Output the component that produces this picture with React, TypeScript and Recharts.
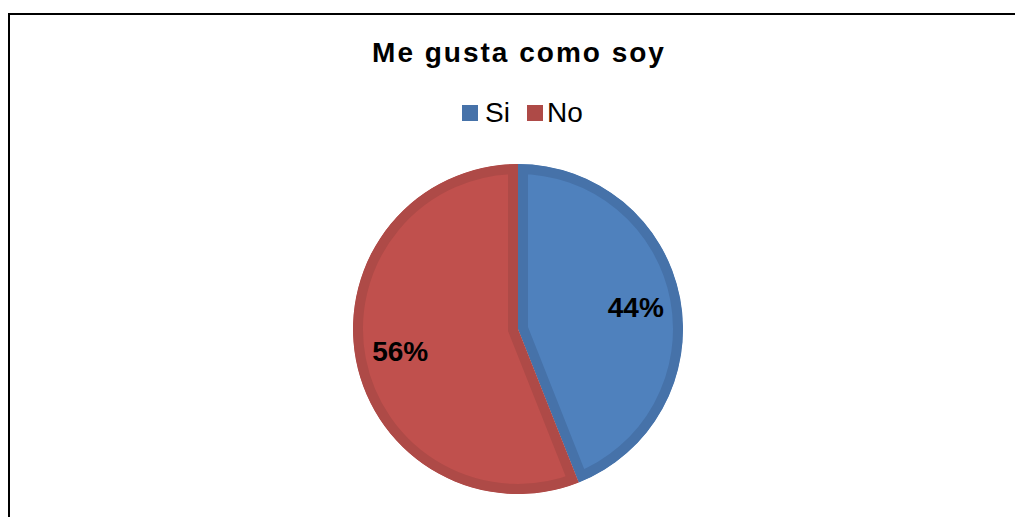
import * as React from 'react'
import { Legend, Pie, PieChart, Sector } from 'recharts'

const title = 'Me gusta como soy'
const categories = ['Si', 'No']
const values = [44, 56]

const fills = ['#4F81BD', '#C0504D']
const borders = ['#4672A9', '#AE4A47']

const FONT = '"Liberation Sans", Arial, Helvetica, sans-serif'
const RADIAN = Math.PI / 180
const BAND = 10 // width of the darker inner edge on each slice

const data = categories.map((name, i) => ({ name, value: values[i] }))

function Slice(props: any) {
  const { cx, cy, innerRadius, outerRadius, startAngle, endAngle } = props
  const idx = Math.max(0, categories.indexOf(props.name ?? props.payload?.name))
  const id = `slice-clip-${idx}`
  const geom = { cx, cy, innerRadius, outerRadius, startAngle, endAngle }
  return (
    <g>
      <defs>
        <clipPath id={id}>
          <Sector {...geom} />
        </clipPath>
      </defs>
      <Sector
        {...geom}
        fill={fills[idx]}
        stroke={borders[idx]}
        strokeWidth={BAND * 2}
        clipPath={`url(#${id})`}
      />
    </g>
  )
}

function renderLabel(props: any) {
  const { cx, cy, midAngle, outerRadius, percent } = props
  const r = outerRadius * 0.727
  const x = cx + r * Math.cos(-midAngle * RADIAN)
  const y = cy + r * Math.sin(-midAngle * RADIAN)
  return (
    <text
      x={x}
      y={y + 10}
      textAnchor="middle"
      fontFamily={FONT}
      fontWeight="bold"
      fontSize={28}
      fill="#000"
    >
      {`${Math.round(percent * 100)}%`}
    </text>
  )
}

function renderLegend(props: any) {
  const payload = [...(props.payload ?? [])].sort(
    (a: any, b: any) => categories.indexOf(a.value) - categories.indexOf(b.value),
  )
  return (
    <div
      style={{
        display: 'flex',
        alignItems: 'center',
        paddingLeft: 462,
        height: 28,
        lineHeight: '28px',
        fontFamily: FONT,
        fontSize: 28,
        color: '#000',
      }}
    >
      {payload.map((entry: any, i: number) => {
        const idx = Math.max(0, categories.indexOf(entry.value))
        return (
          <span
            key={entry.value}
            style={{ display: 'flex', alignItems: 'center', marginRight: i === 0 ? 17 : 0 }}
          >
            <span
              style={{
                display: 'inline-block',
                width: 16,
                height: 16,
                background: borders[idx],
                marginRight: i === 0 ? 7 : 4,
              }}
            />
            <span>{entry.value}</span>
          </span>
        )
      })}
    </div>
  )
}

export default function App() {
  return (
    <div
      style={{
        position: 'fixed',
        left: 0,
        top: 0,
        width: 1015,
        height: 517,
        overflow: 'hidden',
        background: '#fff',
      }}
    >
      <div
        style={{
          position: 'absolute',
          left: 8,
          top: 13,
          width: 1100,
          height: 600,
          border: '2px solid #000',
        }}
      />
      <svg width={1015} height={517} style={{ position: 'absolute', left: 0, top: 0 }}>
        <text
          x={519}
          y={62}
          textAnchor="middle"
          fontFamily={FONT}
          fontWeight="bold"
          fontSize={28}
          letterSpacing={2}
          fill="#000"
        >
          {title}
        </text>
      </svg>
      <div style={{ position: 'absolute', left: 0, top: 0 }}>
        <PieChart width={1015} height={517} margin={{ top: 0, right: 0, bottom: 0, left: 0 }}>
          <Pie
            data={data}
            dataKey="value"
            nameKey="name"
            cx={518}
            cy={329}
            outerRadius={165}
            startAngle={90}
            endAngle={-270}
            shape={Slice}
            label={renderLabel}
            labelLine={false}
            isAnimationActive={false}
          />
          <Legend
            layout="horizontal"
            verticalAlign="middle"
            align="center"
            content={renderLegend}
            wrapperStyle={{ top: 99, left: 0, width: 1015 }}
          />
        </PieChart>
      </div>
    </div>
  )
}
